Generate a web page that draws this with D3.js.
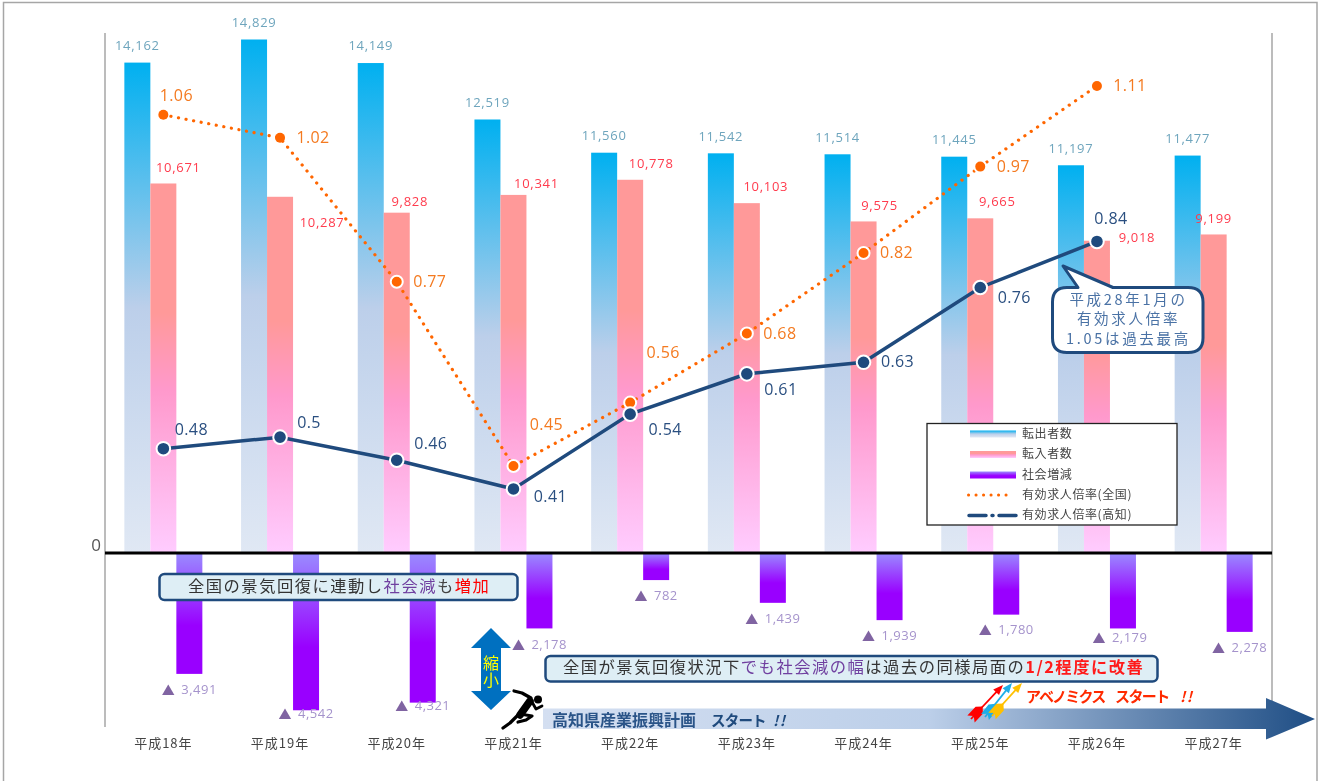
<!DOCTYPE html>
<html><head><meta charset="utf-8">
<script src="https://cdn.jsdelivr.net/npm/d3@7"></script>
<style>
html,body{margin:0;padding:0;background:#fff;overflow:hidden}
svg{display:block;filter:blur(0.4px)}
text{font-family:"Noto Sans CJK JP","Noto Sans",sans-serif}
.num{font-family:"Open Sans","Noto Sans",sans-serif}
</style></head><body>
<svg id="c" width="1322" height="781"></svg>
<script>
const years=["平成18年","平成19年","平成20年","平成21年","平成22年","平成23年","平成24年","平成25年","平成26年","平成27年"];
const outflow=[14162,14829,14149,12519,11560,11542,11514,11445,11197,11477];
const inflow=[10671,10287,9828,10341,10778,10103,9575,9665,9018,9199];
const socialLoss=[3491,4542,4321,2178,782,1439,1939,1780,2179,2278];
const ratioNational=[1.06,1.02,0.77,0.45,0.56,0.68,0.82,0.97,1.11];
const ratioKochi=[0.48,0.5,0.46,0.41,0.54,0.61,0.63,0.76,0.84];
const legendNames=["転出者数","転入者数","社会増減","有効求人倍率(全国)","有効求人倍率(高知)"];

// label nudges, relative to each mark
const inLabelOffset=[[15,-15.5],[42,26],[13,-11],[23,-11],[21,-16],[19,-16],[16,-16],[17,-17],[40,-3],[0,-16]];
const lossLabelOffset=[[0,16],[0,4],[0,3.5],[0,17],[0,16],[0,16.5],[0,16],[0,16],[-3,9.5],[0,16]];
const natLabelOffset=[[13,-19],[33,0],[33,0],[33,-41],[33,-50],[33,0],[33,0],[33,0],[33,0]];
const kochiLabelOffset=[[28,-19],[29,-14],[34,-16],[37,8],[35,16],[34,16],[34,0],[34,10],[14,-23]];

const svg=d3.select("#c");
const defs=svg.append("defs");
function grad(id,stops,x2,y2){
  const g=defs.append("linearGradient").attr("id",id).attr("x1",0).attr("y1",0).attr("x2",x2||0).attr("y2",y2===undefined?1:y2);
  stops.forEach(s=>g.append("stop").attr("offset",s[0]).attr("stop-color",s[1]));
}
grad("gOut",[[0,"#00b0f0"],[0.5,"#bccfea"],[1,"#e0e8f4"]]);
grad("gIn",[[0,"#ff9999"],[0.35,"#ff9999"],[0.56,"#ff99cc"],[1,"#ffccff"]]);
grad("gLoss",[[0,"#9a8cff"],[0.6,"#9900ff"],[1,"#9900ff"]]);
grad("gArrow",[[0,"#d4dff1"],[0.5,"#bccfe9"],[1,"#1f4e85"]],1,0);

const x=d3.scaleBand().domain(years).range([105,1272]);
const y=d3.scaleLinear().domain([0,14829]).range([553,39.5]);
const r=d3.scaleLinear().domain([0,1.11]).range([725,86]);
const bw=26;
const cx=i=>x(years[i])+x.bandwidth()/2;

// frame
svg.append("path").attr("d","M3.5,781V2.5H1317V781").attr("fill","none").attr("stroke","#a6a6a6").attr("stroke-width",1.5);
svg.append("line").attr("x1",105).attr("x2",105).attr("y1",33).attr("y2",727).attr("stroke","#a6a6a6").attr("stroke-width",1.5);
svg.append("line").attr("x1",1272).attr("x2",1272).attr("y1",33).attr("y2",727).attr("stroke","#a6a6a6").attr("stroke-width",1.5);

// bars
svg.append("g").selectAll("rect").data(outflow).join("rect")
  .attr("x",(d,i)=>cx(i)-bw-13).attr("width",bw).attr("y",d=>y(d)).attr("height",d=>y(0)-y(d)).attr("fill","url(#gOut)");
svg.append("g").selectAll("rect").data(inflow).join("rect")
  .attr("x",(d,i)=>cx(i)-13).attr("width",bw).attr("y",d=>y(d)).attr("height",d=>y(0)-y(d)).attr("fill","url(#gIn)");
svg.append("g").selectAll("rect").data(socialLoss).join("rect")
  .attr("x",(d,i)=>cx(i)+13).attr("width",bw).attr("y",y(0)).attr("height",d=>y(0)-y(d)).attr("fill","url(#gLoss)");

// zero line
svg.append("line").attr("x1",105).attr("x2",1272).attr("y1",y(0)).attr("y2",y(0)).attr("stroke","#000").attr("stroke-width",3);
svg.append("text").attr("class","num").attr("x",96).attr("y",546).attr("text-anchor","middle").attr("dominant-baseline","middle").attr("font-size",17).attr("fill","#555").text("0");

// x axis
const ax=svg.append("g").attr("transform","translate(0,731.5)").call(d3.axisBottom(x).tickSize(0).tickPadding(7));
ax.select(".domain").remove();
ax.selectAll("text").attr("font-size",13).attr("letter-spacing",1).attr("fill","#444").style("font-family",'"Noto Sans CJK JP",sans-serif');

// bar labels
const fmt=d3.format(",");
svg.append("g").selectAll("text").data(outflow).join("text").attr("class","num")
  .attr("x",(d,i)=>cx(i)-26).attr("y",d=>y(d)-16.2).attr("text-anchor","middle").attr("dominant-baseline","middle")
  .attr("font-size",13).attr("letter-spacing",0.7).attr("fill","#6ea5bd").text(fmt);
svg.append("g").selectAll("text").data(inflow).join("text").attr("class","num")
  .attr("x",(d,i)=>cx(i)+inLabelOffset[i][0]).attr("y",(d,i)=>y(d)+inLabelOffset[i][1]+0.8).attr("text-anchor","middle").attr("dominant-baseline","middle")
  .attr("font-size",13).attr("letter-spacing",0.7).attr("fill","#ff3b4d").text(fmt);
const lossT=svg.append("g").selectAll("text").data(socialLoss).join("text").attr("class","num")
  .attr("x",(d,i)=>cx(i)+26+lossLabelOffset[i][0]).attr("y",(d,i)=>y(0)+(y(0)-y(d))+lossLabelOffset[i][1]+0.8).attr("text-anchor","middle").attr("dominant-baseline","middle")
  .attr("font-size",13).attr("letter-spacing",0.5).attr("fill","#a593cc");
lossT.append("tspan").attr("fill","#8064a2").style("font-family",'"Noto Sans CJK JP"').text("▲");
lossT.append("tspan").attr("dx",6).text(fmt);

// lines
const line=d3.line().x((d,i)=>cx(i));
svg.append("path").attr("d",line.y(d=>r(d))(ratioNational)).attr("fill","none").attr("stroke","#ff6600").attr("stroke-width",3.2).attr("stroke-linecap","round").attr("stroke-dasharray","0.1 7.6");
svg.append("path").attr("d",line.y(d=>r(d))(ratioKochi)).attr("fill","none").attr("stroke","#1f4a7d").attr("stroke-width",3.5);
svg.append("g").selectAll("circle").data(ratioNational).join("circle")
  .attr("cx",(d,i)=>cx(i)).attr("cy",d=>r(d)).attr("r",(d,i)=>i<2||i==8?5:6).attr("fill","#ff6600")
  .attr("stroke",(d,i)=>i<2||i==8?"none":"#fff").attr("stroke-width",2);
svg.append("g").selectAll("circle").data(ratioKochi).join("circle")
  .attr("cx",(d,i)=>cx(i)).attr("cy",d=>r(d)).attr("r",6.8).attr("fill","#1f4a7d").attr("stroke","#fff").attr("stroke-width",2);
svg.append("g").selectAll("text").data(ratioNational).join("text").attr("class","num")
  .attr("x",(d,i)=>cx(i)+natLabelOffset[i][0]).attr("y",(d,i)=>r(d)+natLabelOffset[i][1]+0.8).attr("text-anchor","middle").attr("dominant-baseline","middle")
  .attr("font-size",16).attr("letter-spacing",0.4).attr("fill","#f47a20").text(d=>d);
svg.append("g").selectAll("text").data(ratioKochi).join("text").attr("class","num")
  .attr("x",(d,i)=>cx(i)+kochiLabelOffset[i][0]).attr("y",(d,i)=>r(d)+kochiLabelOffset[i][1]+0.8).attr("text-anchor","middle").attr("dominant-baseline","middle")
  .attr("font-size",16).attr("letter-spacing",0.4).attr("fill","#2a4f80").text(d=>d);

// legend
svg.append("rect").attr("x",927).attr("y",423.5).attr("width",250).attr("height",101.5).attr("fill","#fff").attr("stroke","#222").attr("stroke-width",1.3);
const ly=[434,454.5,475,495,515.5];
["gOut","gIn","gLoss"].forEach((g,i)=>svg.append("rect").attr("x",970).attr("y",ly[i]-3.5).attr("width",46).attr("height",7).attr("fill",`url(#${g})`));
svg.append("line").attr("x1",968.5).attr("x2",1012).attr("y1",ly[3]).attr("y2",ly[3]).attr("stroke","#ff6600").attr("stroke-width",3).attr("stroke-linecap","round").attr("stroke-dasharray","0.1 7.4");
svg.append("line").attr("x1",969).attr("x2",1017).attr("y1",ly[4]).attr("y2",ly[4]).attr("stroke","#1f4a7d").attr("stroke-width",3.5).attr("stroke-linecap","round").attr("stroke-dasharray","17 6 1 6 17");
svg.append("g").selectAll("text").data(legendNames).join("text")
  .attr("x",1022).attr("y",(d,i)=>ly[i]+0.5).attr("dominant-baseline","middle").attr("font-size",12).attr("letter-spacing",0.6).attr("fill","#444").text(d=>d);

// callouts
function callout(x0,y0,w,h,parts,fs,ls,tx){
  svg.append("rect").attr("x",x0).attr("y",y0).attr("width",w).attr("height",h).attr("rx",5).attr("fill","#deeef5").attr("stroke","#1f4a7d").attr("stroke-width",2.5);
  const t=svg.append("text").attr("x",tx).attr("y",y0+h/2+0.5).attr("dominant-baseline","middle").attr("font-size",fs).attr("letter-spacing",ls);
  parts.forEach(p=>t.append("tspan").attr("fill",p[1]).attr("font-weight",p[2]||400).text(p[0]));
}
callout(159.5,574,358,26,[["全国の景気回復に連動し","#333"],["社会減","#7040a0"],["も","#444"],["増加","#ff0000"]],16.3,1.5,188);
callout(545.5,656,612,25.5,[["全国が景気回復状況下","#333"],["でも社会減の幅","#7040a0"],["は過去の同様局面の","#333"],["1/2程度に改善","#ff1a1a",700]],16.3,1.5,563);

// speech bubble
svg.append("path").attr("d","M1078,287.5L1063,266L1113,287.5H1188Q1203,287.5 1203,302V338Q1203,352.5 1188,352.5H1067Q1052.5,352.5 1052.5,338V302Q1052.5,287.5 1067,287.5Z")
  .attr("fill","#fff").attr("stroke","#1f4a7d").attr("stroke-width",3).attr("stroke-linejoin","round");
["平成28年1月の","有効求人倍率","1.05は過去最高"].forEach((s,i)=>svg.append("text").attr("x",1128.5).attr("y",301+i*19.5).attr("text-anchor","middle").attr("dominant-baseline","middle").attr("font-size",14.5).attr("letter-spacing",2.7).attr("fill","#4a72a5").text(s));

// shrink arrow
svg.append("path").attr("d","M491,628L511,648H501V691H511L491,710L471,691H481V648H471Z").attr("fill","#0070c0");
svg.append("text").attr("transform","translate(491,671.5)").attr("text-anchor","middle").attr("dominant-baseline","central").style("writing-mode","vertical-rl").attr("font-size",16).attr("letter-spacing",1).attr("fill","#ffff00").text("縮小");

// timeline arrow
svg.append("path").attr("d","M543,708.5H1266V698L1315,719L1266,739.5V729H543Z").attr("fill","url(#gArrow)");
const tl=(s,px,py,fs,fill,extra)=>{const t=svg.append("text").attr("x",px).attr("y",py).attr("dominant-baseline","middle").attr("font-size",fs).attr("font-weight",700).attr("fill",fill).text(s);if(extra)Object.entries(extra).forEach(e=>t.attr(e[0],e[1]));};
tl("高知県産業振興計画",552,722,16,"#2a5488");
tl("スタート",711,722,14.5,"#1f4a7d",{"letter-spacing":-0.8});
tl("!!",773,722,14.5,"#1f4a7d",{"font-style":"italic","letter-spacing":1.5});
tl("アベノミクス",1026,698,15,"#ff2a00",{"letter-spacing":-1.8});
tl("スタート",1115,698,15,"#ff2a00",{"letter-spacing":-1.6});
tl("!!",1180,698,14.5,"#ff2a00",{"font-style":"italic","letter-spacing":1.5});

// runner
const runner=svg.append("g").attr("fill","none").attr("stroke","#000").attr("stroke-linecap","round").attr("stroke-linejoin","round");
svg.append("circle").attr("cx",538).attr("cy",699.5).attr("r",4).attr("fill","#000");
runner.append("path").attr("d","M530,701L520,715").attr("stroke-width",7.5);
runner.append("path").attr("d","M531,698L522,693L514,691").attr("stroke-width",3.2);
runner.append("path").attr("d","M532,702L536,709L542,706").attr("stroke-width",2.8);
runner.append("path").attr("d","M520,714L532,716L526,720L518,722").attr("stroke-width",3.2);
runner.append("path").attr("d","M518,715L510,723L503,728").attr("stroke-width",3.2);

// rocket arrows
[["#ff0000",971,719,1003,685],["#1eaee8",985,717,1012,683],["#ffc000",992,716,1022,683]].forEach(a=>{
  const [c,x1,y1,x2,y2]=a, ang=Math.atan2(y2-y1,x2-x1)*180/Math.PI, len=Math.hypot(x2-x1,y2-y1);
  const g=svg.append("g").attr("transform",`translate(${x1},${y1}) rotate(${ang})`);
  g.append("line").attr("x1",0).attr("x2",len-4).attr("stroke",c).attr("stroke-width",1.8);
  g.append("path").attr("d",`M${len},0L${len-10},-4L${len-10},4Z`).attr("fill",c);
  g.append("path").attr("d","M0,-5L12,-5L17,0L12,5L0,5L4,0Z").attr("fill",c);
});
</script>
</body></html>
